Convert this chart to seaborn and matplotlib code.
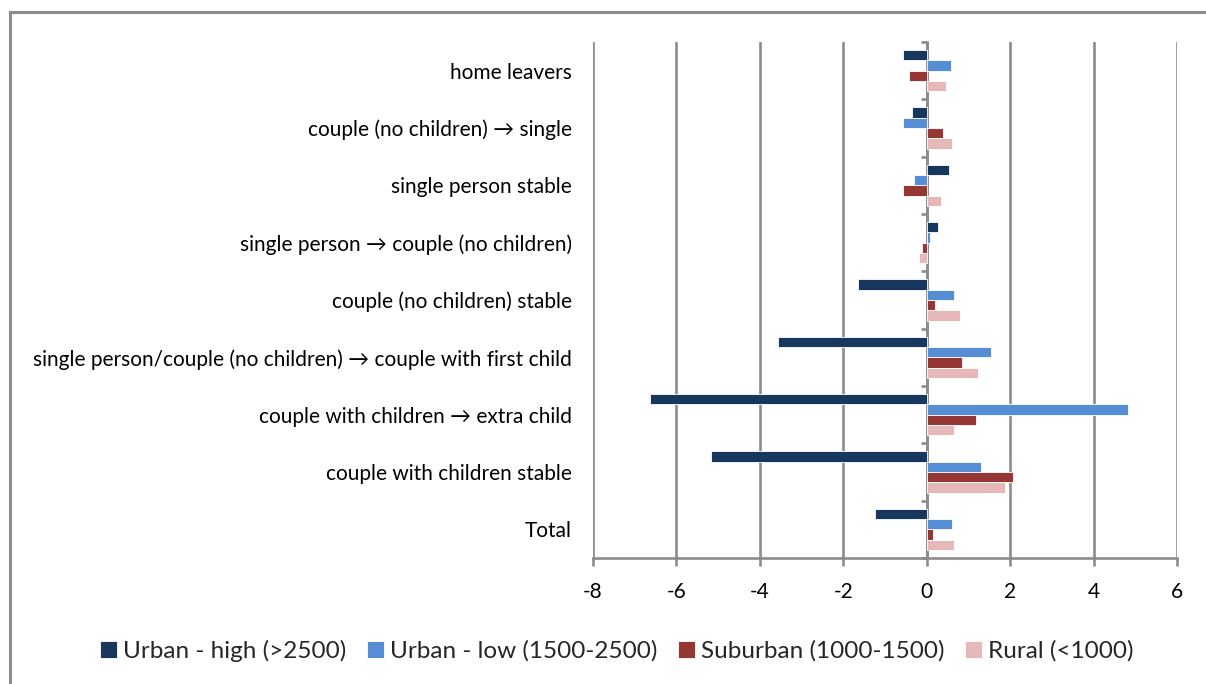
import matplotlib
matplotlib.use("Agg")
import matplotlib.pyplot as plt
from matplotlib.patches import Rectangle
import numpy as np
import pandas as pd
import seaborn as sns

categories = [
    "home leavers",
    "couple (no children) \u2192 single",
    "single person stable",
    "single person \u2192 couple (no children)",
    "couple (no children) stable",
    "single person/couple (no children) \u2192 couple with first child",
    "couple with children \u2192 extra child",
    "couple with children stable",
    "Total",
]
series = [
    "Urban - high (>2500)",
    "Urban - low (1500-2500)",
    "Suburban (1000-1500)",
    "Rural (<1000)",
]
urban_high = [-0.56, -0.36, 0.53, 0.27, -1.65, -3.56, -6.63, -5.17, -1.25]
urban_low = [0.59, -0.56, -0.30, 0.08, 0.65, 1.55, 4.82, 1.30, 0.60]
suburban = [-0.43, 0.40, -0.56, -0.11, 0.21, 0.85, 1.17, 2.07, 0.14]
rural = [0.46, 0.60, 0.34, -0.18, 0.79, 1.23, 0.65, 1.88, 0.65]
x_ticks = [-8, -6, -4, -2, 0, 2, 4, 6]

colors = ["#17375E", "#558ED5", "#953735", "#E6B9B8"]
grid_gray = "#8C8C8C"

df = pd.DataFrame({
    "category": categories * 4,
    "series": np.repeat(series, len(categories)),
    "value": urban_high + urban_low + suburban + rural,
})

sns.set_theme(style="white")
plt.rcParams["font.family"] = ["Lato", "DejaVu Sans"]

W, H = 1206, 684
fig = plt.figure(figsize=(W / 100, H / 100), dpi=100)
ax = fig.add_axes([593 / W, 1 - 558 / H, (1177 - 593) / W, (558 - 42) / H])

sns.barplot(
    data=df, y="category", x="value", hue="series", orient="h",
    order=categories, hue_order=series, palette=colors, saturation=1,
    width=0.72, gap=0, errorbar=None, ax=ax, legend=True,
    edgecolor="white", linewidth=0.6,
)

xmin, xmax = x_ticks[0], x_ticks[-1]
ax.set_xlim(xmin, xmax)
ax.set_ylim(len(categories) - 0.5, -0.5)
ax.set_xticks(x_ticks)
ax.set_xticklabels([str(t) for t in x_ticks])
ax.set_xlabel("")
ax.set_ylabel("")

# vertical gridlines, including the plot edges
for t in x_ticks:
    ax.axvline(t, color=grid_gray, lw=1.9, zorder=0.5)

for side in ["top", "right", "left"]:
    ax.spines[side].set_visible(False)
ax.spines["bottom"].set_color(grid_gray)
ax.spines["bottom"].set_linewidth(1.9)

ax.tick_params(axis="x", direction="out", length=6, width=1.9, color=grid_gray,
               pad=11, labelsize=15, labelcolor="black", bottom=True)
ax.tick_params(axis="y", length=0, pad=15, labelsize=15, labelcolor="black")

# category axis drawn at zero with ticks on group boundaries
zero_pos = (0 - xmin) / (xmax - xmin)
sec = ax.secondary_yaxis(zero_pos)
sec.yaxis.set_ticks_position("left")
sec.set_yticks(np.arange(-0.5, len(categories), 1.0))
sec.set_yticklabels([])
sec.tick_params(axis="y", direction="out", length=4, width=1.9, color=grid_gray,
                left=True, right=False)
sec.spines["left"].set_visible(True)
sec.spines["left"].set_color(grid_gray)
sec.spines["left"].set_linewidth(1.9)
for side in ["top", "right", "bottom"]:
    sec.spines[side].set_visible(False)

handles, labels = ax.get_legend_handles_labels()
ax.legend_.remove()
fig.legend(handles, labels, loc="center", bbox_to_anchor=(617 / W, 1 - 651 / H),
           ncol=4, frameon=False, fontsize=17.5, handlelength=0.7,
           handleheight=0.7, handletextpad=0.25, columnspacing=0.85)

# outer chart frame
fig.patches.append(Rectangle((10 / W, -0.1), 1.2, 1 - 12 / H + 0.1,
                             transform=fig.transFigure, fill=False,
                             edgecolor=grid_gray, lw=2.2))

fig.savefig("out.png", dpi=100)
